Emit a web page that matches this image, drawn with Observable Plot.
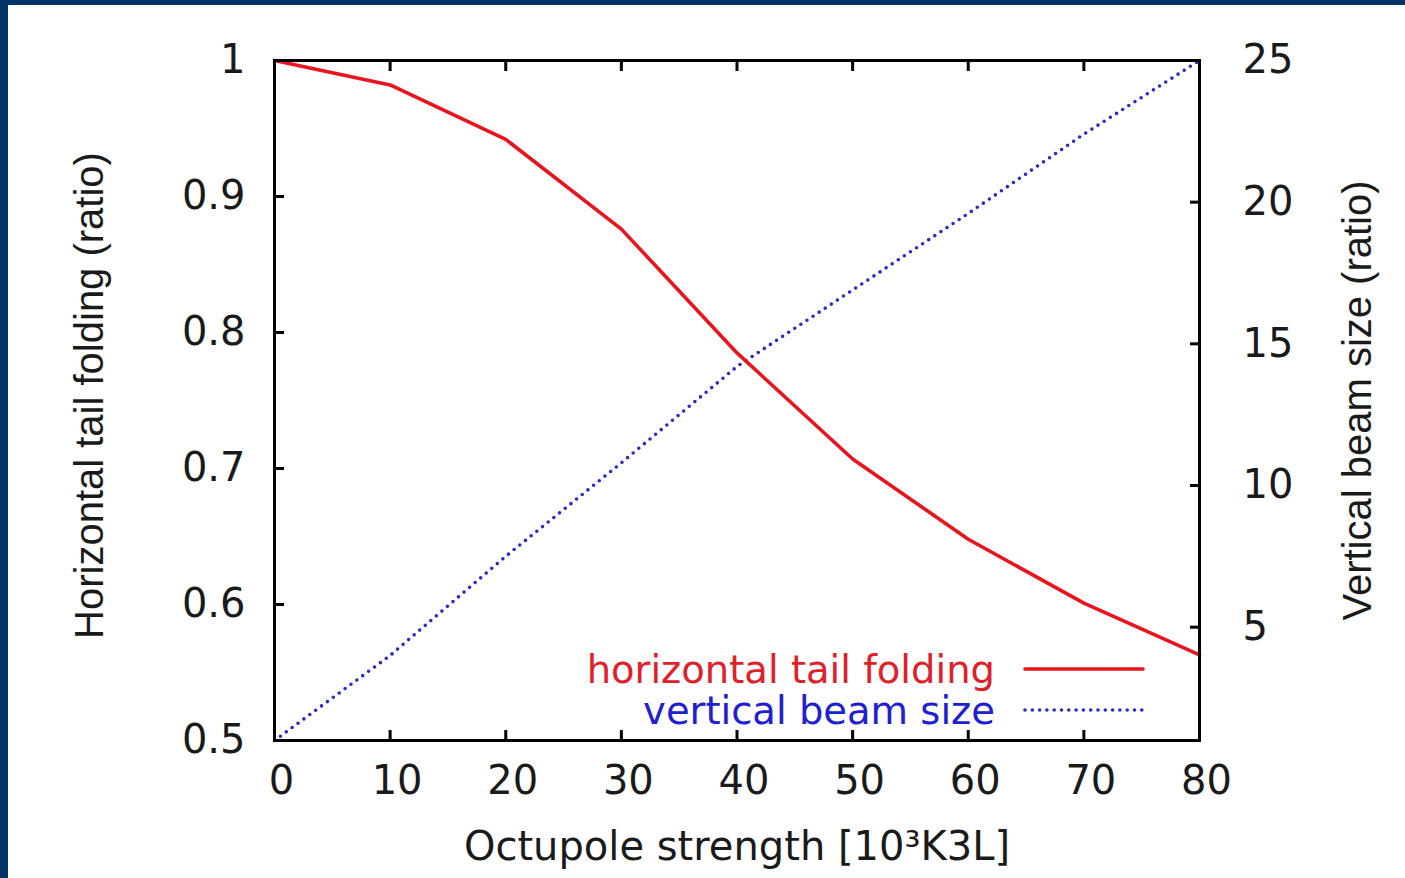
<!DOCTYPE html>
<html><head><meta charset="utf-8">
<script src="https://cdn.jsdelivr.net/npm/d3@7"></script>
<script src="https://cdn.jsdelivr.net/npm/@observablehq/plot@0.6"></script>
<style>
html,body{margin:0;padding:0;background:#fff;}
#wrap{position:relative;width:1405px;height:878px;box-sizing:border-box;border-top:5px solid #003466;border-left:8px solid #003466;overflow:hidden;background:#fff;}
</style></head><body><div id="wrap"></div>
<script>
// Data
const strength = [0, 10, 20, 30, 40, 50, 60, 70, 80];
const tailFolding = [1.0, 0.982, 0.942, 0.876, 0.785, 0.707, 0.648, 0.601, 0.563];
const beamSize = [1, 4, 7.5, 10.8, 14.2, 16.9, 19.6, 22.4, 25];
const xTicks = [0, 10, 20, 30, 40, 50, 60, 70, 80];
const leftTicks = [0.5, 0.6, 0.7, 0.8, 0.9, 1];
const rightTicks = [5, 10, 15, 20, 25];
const seriesNames = ["horizontal tail folding", "vertical beam size"];
const xTitle = "Octupole strength [10³K3L]";
const yLeftTitle = "Horizontal tail folding (ratio)";
const yRightTitle = "Vertical beam size (ratio)";

const leftDomain = [0.5, 1];
const rightDomain = [1, 25];
const red = "#e8141e";
const blue = "#2a2ac8";
const ink = "#1a1a1a";

const toLeft = v => leftDomain[0] + (v - rightDomain[0]) / (rightDomain[1] - rightDomain[0]) * (leftDomain[1] - leftDomain[0]);
const fromLeft = u => rightDomain[0] + (u - leftDomain[0]) / (leftDomain[1] - leftDomain[0]) * (rightDomain[1] - rightDomain[0]);

const data = strength.map((s, i) => ({s, tail: tailFolding[i], beam: beamSize[i]}));

function legendMark(index, scales, values, dims) {
  const g = d3.create("svg:g");
  const right = dims.width - dims.marginRight;
  const bottom = dims.height - dims.marginBottom;
  const styles = [
    {color: red, dash: null, textColor: "#e0202a"},
    {color: blue, dash: "0 7.3", textColor: "#2020d0"}
  ];
  seriesNames.forEach((name, i) => {
    const cy = bottom - 71 + i * 41;
    g.append("text")
      .attr("x", right - 204).attr("y", cy).attr("dy", "0.36em")
      .attr("text-anchor", "end").attr("fill", styles[i].textColor)
      .attr("font-family", "'DejaVu Sans', sans-serif").attr("font-size", 38.5)
      .text(name);
    const ln = g.append("line")
      .attr("x1", right - 174).attr("x2", right - 56)
      .attr("y1", cy).attr("y2", cy)
      .attr("stroke", styles[i].color).attr("stroke-width", 3.6)
      .attr("stroke-linecap", "round");
    if (styles[i].dash) ln.attr("stroke-dasharray", styles[i].dash);
  });
  return g.node();
}

const chart = Plot.plot({
  width: 1397, height: 873,
  marginLeft: 266, marginRight: 206, marginTop: 55, marginBottom: 138,
  style: {fontFamily: "'DejaVu Sans', sans-serif", fontSize: "40px", color: ink, background: "white"},
  x: {domain: [0, 80], label: null},
  y: {domain: leftDomain, label: null},
  marks: [
    Plot.line(data, {x: "s", y: d => toLeft(d.beam), stroke: blue, strokeWidth: 3.6, strokeDasharray: "0 7.3", strokeLinecap: "round"}),
    Plot.line(data, {x: "s", y: "tail", stroke: red, strokeWidth: 3.6}),
    Plot.frame({stroke: "#000", strokeWidth: 3}),
    Plot.axisX(xTicks, {anchor: "bottom", tickSize: -10, strokeWidth: 3, stroke: "#000", fill: "none", label: null}),
    Plot.axisX(xTicks, {anchor: "bottom", tickSize: 0, tickPadding: 25, dx: 7, fill: ink, label: null}),
    Plot.axisX(xTicks, {anchor: "top", tickSize: -10, strokeWidth: 3, stroke: "#000", fill: "none", label: null}),
    Plot.axisY(leftTicks, {anchor: "left", tickSize: -10, tickPadding: 39, strokeWidth: 3, stroke: "#000", fill: ink, label: null, tickFormat: d => `${+d.toFixed(1)}`}),
    Plot.axisY(rightTicks.map(toLeft), {anchor: "right", tickSize: -10, tickPadding: 53, strokeWidth: 3, stroke: "#000", fill: ink, textAnchor: "start", label: null, tickFormat: d => `${Math.round(fromLeft(d))}`}),
    Plot.text([yLeftTitle], {text: d => d, frameAnchor: "left", textAnchor: "middle", dx: -184, dy: -5, rotate: -90, fontFamily: "'Liberation Sans', Arial, sans-serif", fontSize: 40, fill: ink}),
    Plot.text([yRightTitle], {text: d => d, frameAnchor: "right", textAnchor: "middle", dx: 159, rotate: -90, fontFamily: "'Liberation Sans', Arial, sans-serif", fontSize: 40, fill: ink}),
    Plot.text([xTitle], {text: d => d, frameAnchor: "bottom", dy: 119, fontSize: 40, fill: ink}),
    legendMark
  ]
});
document.getElementById("wrap").appendChild(chart);
</script>
</body></html>
